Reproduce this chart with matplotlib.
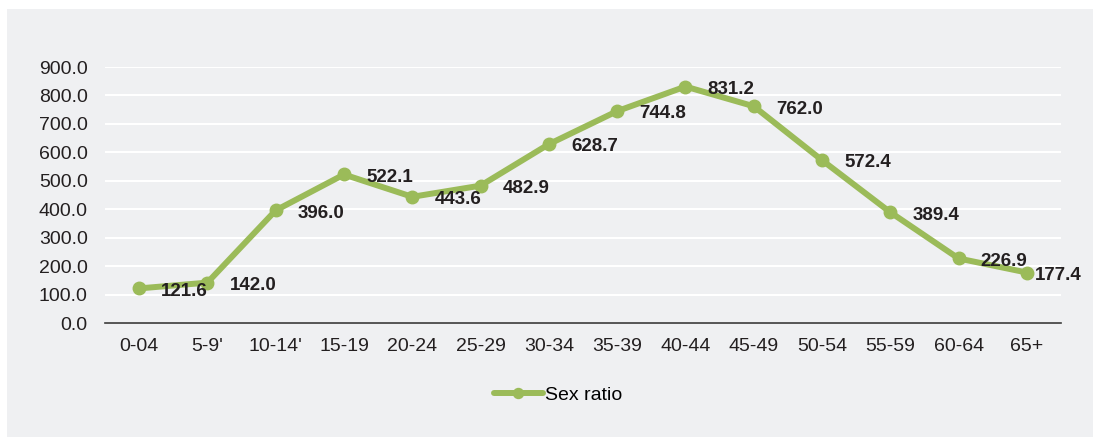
import matplotlib.pyplot as plt
from matplotlib.patches import Rectangle

plt.rcParams['font.family'] = ['Liberation Sans', 'DejaVu Sans']

age_groups = ["0-04", "5-9'", "10-14'", "15-19", "20-24", "25-29", "30-34",
              "35-39", "40-44", "45-49", "50-54", "55-59", "60-64", "65+"]
sex_ratio = [121.6, 142.0, 396.0, 522.1, 443.6, 482.9, 628.7,
             744.8, 831.2, 762.0, 572.4, 389.4, 226.9, 177.4]
y_ticks = [0, 100, 200, 300, 400, 500, 600, 700, 800, 900]

W, H = 1093, 437
fig = plt.figure(figsize=(W / 100, H / 100), dpi=100)
fig.patch.set_facecolor("white")

# grey chart panel, drawn behind the axes
fig.patches.append(Rectangle((7 / W, 0), 1 - 7 / W, 1 - 9 / H,
                             transform=fig.transFigure, facecolor="#eff0f2",
                             edgecolor="none", zorder=-10))

ax = fig.add_axes([105 / W, (H - 323) / H, (1061 - 105) / W, (323 - 67) / H])
ax.set_facecolor("none")

green = "#9bbb59"
x = range(len(age_groups))
ax.plot(x, sex_ratio, color=green, lw=4.3, marker="o", ms=9,
        solid_capstyle="round", label="Sex ratio", zorder=3)

# value labels to the right of each point; the last one is pulled in
# so it stays inside the panel
for xi, v in zip(x, sex_ratio):
    dx = 6 if xi == len(age_groups) - 1 else 16
    ax.annotate(f"{v:.1f}", (xi, v), xytext=(dx, -2), textcoords="offset points",
                ha="left", va="center", fontsize=13.5, fontweight="bold",
                color="#231f20", zorder=4)

ax.set_xlim(-0.5, len(age_groups) - 0.5)
ax.set_ylim(0, 900)
ax.set_xticks(list(x))
ax.set_xticklabels(age_groups)
ax.set_yticks(y_ticks)
ax.set_yticklabels([f"{t:.1f}" for t in y_ticks])
ax.tick_params(length=0, labelsize=14, colors="#231f20")
ax.tick_params(axis="y", pad=12.5)
ax.tick_params(axis="x", pad=11)

ax.grid(axis="y", color="white", lw=1.5)
ax.set_axisbelow(True)
for s in ["top", "right", "left"]:
    ax.spines[s].set_visible(False)
ax.spines["bottom"].set_color("#3a3a3a")
ax.spines["bottom"].set_linewidth(1.2)
ax.spines["bottom"].set_zorder(2.5)

ax.legend(loc="center", bbox_to_anchor=(558 / W, (H - 395) / H),
          bbox_transform=fig.transFigure, frameon=False, fontsize=14,
          handlelength=2.5, handletextpad=0.1, markerscale=0.8)

fig.savefig("out.png", dpi=100)
